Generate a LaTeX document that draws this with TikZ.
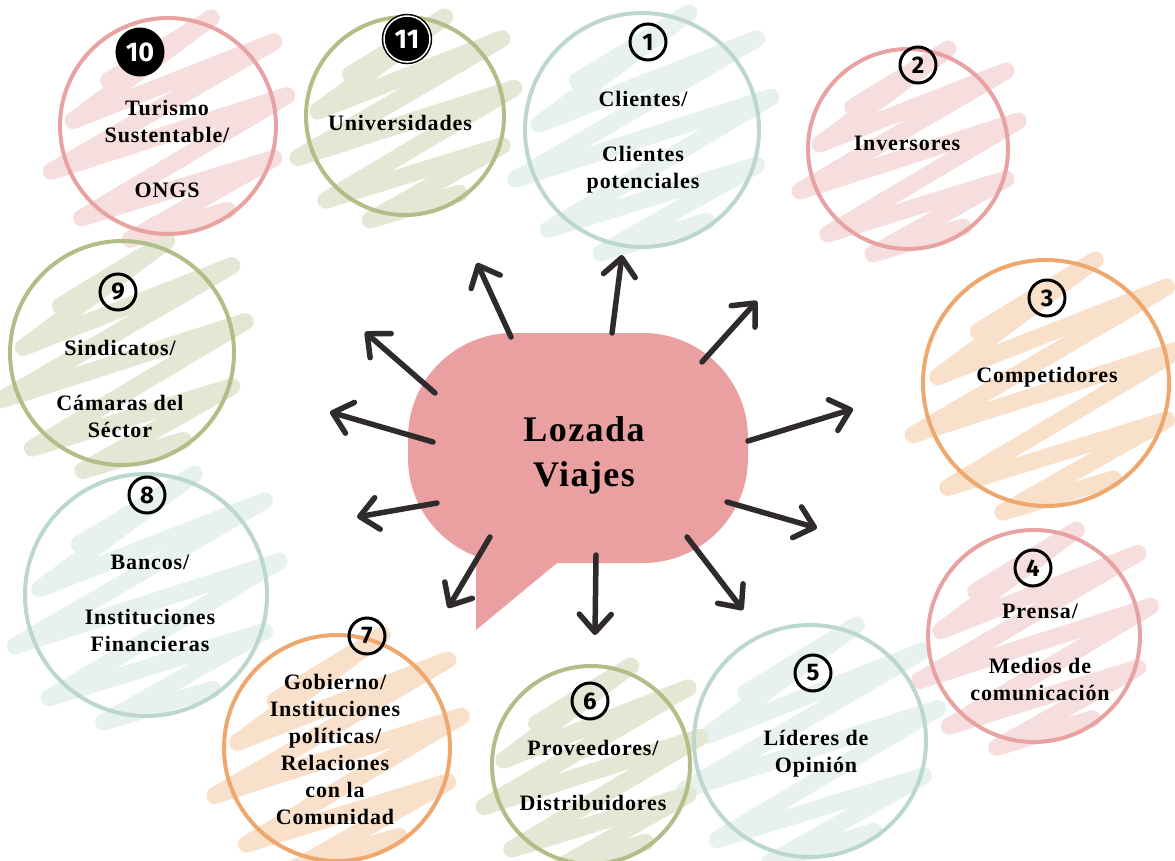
\documentclass[tikz,border=0pt]{standalone}
\usepackage{fontspec}
\setmainfont{Liberation Serif}[LetterSpace=4]
\newfontfamily\numfont{Fira Sans}
\usetikzlibrary{arrows.meta}

\definecolor{bubblecol}{RGB}{234,160,160}
\definecolor{pink}{RGB}{233,162,162}
\definecolor{mint}{RGB}{188,216,204}
\definecolor{sage}{RGB}{178,189,135}
\definecolor{orange}{RGB}{238,168,110}
\definecolor{arrowcol}{RGB}{47,43,45}

\tikzset{
	ring/.style={circle, line width=4pt, inner sep=0pt},
	sttext/.style={font=\bfseries\fontsize{22}{27}\selectfont, align=center, inner sep=0pt},
	badge/.style={circle, draw=black, line width=3pt, minimum size=36pt, inner sep=0pt, font=\numfont\bfseries\fontsize{24}{24}\selectfont},
	bigbadge/.style={badge, fill=black, text=white, minimum size=46pt, font=\numfont\bfseries\fontsize{27}{27}\selectfont},
	arr/.style={draw=arrowcol, line width=5.5pt, line cap=round, -{Straight Barb[length=18pt,width=32pt,line width=5.5pt,round]}},
	scrib/.pic={
		\draw[pic actions, line width=17pt, line cap=round, line join=round]
			(-0.55,-0.42) -- (0.40,-1.00) -- (-0.88,-0.05) -- (0.98,-0.78) -- (-1.08,0.42) -- (1.10,-0.28)
			-- (-0.80,0.85) -- (0.98,0.30) -- (-0.35,1.05) -- (0.55,0.78);
	}
}

\begin{document}
\begin{tikzpicture}[x=1pt,y=-1pt]
		\useasboundingbox (0,0) rectangle (1175,861);
		%scribbles
		\foreach \n/\x/\y/\r/\col in {1/642/130/117/mint, 2/908/149/100/pink, 3/1046/383/123/orange, 4/1034/636/106/pink, 5/810/741/116/mint, 6/591/765/99/sage, 7/337/748/113/orange, 8/146/595/121/mint, 9/122/353/112/sage, 10/168/126/108/pink, 11/405/116/99/sage}
			\pic[draw=\col!36!white, scale=\r] at (\x,\y) {scrib};
		%rings
		\foreach \n/\x/\y/\r/\col in {1/642/130/117/mint, 2/908/149/100/pink, 3/1046/383/123/orange, 4/1034/636/106/pink, 5/810/741/116/mint, 6/591/765/99/sage, 7/337/748/113/orange, 8/146/595/121/mint, 9/122/353/112/sage, 10/168/126/108/pink, 11/405/116/99/sage}
			\node[ring, draw=\col, minimum size={(2*\r)*1pt}] (c\n) at (\x,\y) {};
		%numbers
		\node[badge] (n1) at (648,42) {1};
		\node[badge] (n2) at (918,65) {2};
		\node[badge] (n3) at (1047,298) {3};
		\node[badge] (n4) at (1033,568) {4};
		\node[badge] (n5) at (813,673) {5};
		\node[badge] (n6) at (590,701) {6};
		\node[badge] (n7) at (367,636) {7};
		\node[badge] (n8) at (147,495) {8};
		\node[badge] (n9) at (118,292) {9};
		\node[bigbadge] (n10) at (140,52) {10};
		\node[bigbadge, double=white, double distance=1.5pt, line width=1.5pt] (n11) at (407,39) {11};
		%texts
		\node[sttext] (s1) at (643,142) {Clientes/\\[28pt]Clientes\\potenciales};
		\node[sttext] (s2) at (907,143) {Inversores};
		\node[sttext] (s3) at (1047,377) {Competidores};
		\node[sttext] (s4) at (1040,652) {Prensa/\\[28pt]Medios de\\comunicación};
		\node[sttext] (s5) at (816,754) {Líderes de\\Opinión};
		\node[sttext] (s6) at (593,775) {Proveedores/\\[28pt]Distribuidores};
		\node[sttext] (s7) at (335,749) {Gobierno/\\Instituciones\\políticas/\\Relaciones\\con la\\Comunidad};
		\node[sttext] (s8) at (150,603) {Bancos/\\[28pt]Instituciones\\Financieras};
		\node[sttext] (s9) at (120,389) {Sindicatos/\\[28pt]Cámaras del\\Séctor};
		\node[sttext] (s10) at (167,149) {Turismo\\Sustentable/\\[28pt]ONGS};
		\node[sttext] (s11) at (400,123) {Universidades};
		%bubble
		\fill[bubblecol, rounded corners=105pt] (408,333) rectangle (748,563);
		\fill[bubblecol] (476,530) -- (476,630) -- (557,563) -- (570,530) -- cycle;
		\node[font=\bfseries\fontsize{36}{45}\selectfont, align=center, inner sep=0pt] (hub) at (584,455) {Lozada\\Viajes};
		%arrows
		\foreach \n/\ax/\ay/\bx/\by in {1/612/333/622/255, 2/702/362/757/301, 3/748/441/853/409, 4/727/502/817/528, 5/687/537/743/610, 6/596/555/595/635, 7/490/537/448/608, 8/437/503/357/517, 9/433/442/330/412, 10/435/393/365/332, 11/511/337/477/263}{
			\coordinate (a\n) at (\ax,\ay);
			\coordinate (b\n) at (\bx,\by);
			\draw[arr] (a\n) -- (b\n);
		}
\end{tikzpicture}
\end{document}
